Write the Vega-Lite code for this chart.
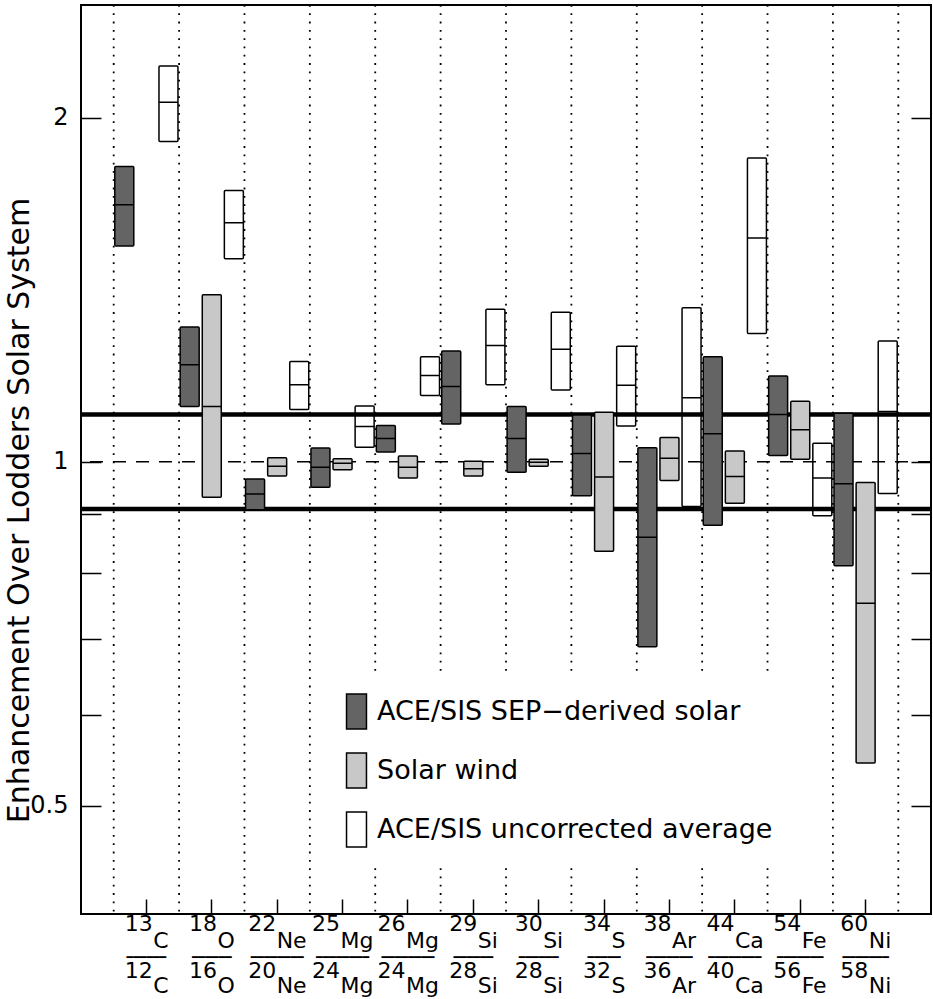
{
  "$schema": "https://vega.github.io/schema/vega-lite/v6.json",
  "width": 850,
  "height": 909,
  "autosize": {"type": "none"},
  "padding": {"left": 81, "top": 5, "right": 2, "bottom": 85},
  "background": "white",
  "config": {
    "font": "DejaVu Sans",
    "view": {"stroke": "black", "strokeWidth": 2},
    "axis": {"labelFont": "DejaVu Sans", "titleFont": "DejaVu Sans", "labelColor": "black", "titleColor": "black", "tickColor": "black", "grid": false, "domain": false},
    "legend": {"labelFont": "DejaVu Sans", "labelColor": "black"}
  },
  "datasets": {
    "ratios": [
      {"ratio": "13C/12C"}, {"ratio": "18O/16O"}, {"ratio": "22Ne/20Ne"}, {"ratio": "25Mg/24Mg"},
      {"ratio": "26Mg/24Mg"}, {"ratio": "29Si/28Si"}, {"ratio": "30Si/28Si"}, {"ratio": "34S/32S"},
      {"ratio": "38Ar/36Ar"}, {"ratio": "44Ca/40Ca"}, {"ratio": "54Fe/56Fe"}, {"ratio": "60Ni/58Ni"}
    ],
    "bands": [
      {"ratio": "13C/12C", "source": "ACE/SIS SEP−derived solar", "lo": 1.545, "mid": 1.679, "hi": 1.813},
      {"ratio": "13C/12C", "source": "ACE/SIS uncorrected average", "lo": 1.907, "mid": 2.064, "hi": 2.221},
      {"ratio": "18O/16O", "source": "ACE/SIS SEP−derived solar", "lo": 1.118, "mid": 1.216, "hi": 1.312},
      {"ratio": "18O/16O", "source": "Solar wind", "lo": 0.931, "mid": 1.118, "hi": 1.400},
      {"ratio": "18O/16O", "source": "ACE/SIS uncorrected average", "lo": 1.506, "mid": 1.619, "hi": 1.728},
      {"ratio": "22Ne/20Ne", "source": "ACE/SIS SEP−derived solar", "lo": 0.908, "mid": 0.937, "hi": 0.966},
      {"ratio": "22Ne/20Ne", "source": "Solar wind", "lo": 0.972, "mid": 0.991, "hi": 1.008},
      {"ratio": "22Ne/20Ne", "source": "ACE/SIS uncorrected average", "lo": 1.111, "mid": 1.168, "hi": 1.224},
      {"ratio": "25Mg/24Mg", "source": "ACE/SIS SEP−derived solar", "lo": 0.950, "mid": 0.989, "hi": 1.028},
      {"ratio": "25Mg/24Mg", "source": "Solar wind", "lo": 0.984, "mid": 0.997, "hi": 1.006},
      {"ratio": "25Mg/24Mg", "source": "ACE/SIS uncorrected average", "lo": 1.030, "mid": 1.074, "hi": 1.119},
      {"ratio": "26Mg/24Mg", "source": "ACE/SIS SEP−derived solar", "lo": 1.020, "mid": 1.048, "hi": 1.076},
      {"ratio": "26Mg/24Mg", "source": "Solar wind", "lo": 0.968, "mid": 0.989, "hi": 1.012},
      {"ratio": "26Mg/24Mg", "source": "ACE/SIS uncorrected average", "lo": 1.143, "mid": 1.190, "hi": 1.236},
      {"ratio": "29Si/28Si", "source": "ACE/SIS SEP−derived solar", "lo": 1.079, "mid": 1.164, "hi": 1.250},
      {"ratio": "29Si/28Si", "source": "Solar wind", "lo": 0.972, "mid": 0.986, "hi": 1.001},
      {"ratio": "29Si/28Si", "source": "ACE/SIS uncorrected average", "lo": 1.168, "mid": 1.264, "hi": 1.360},
      {"ratio": "30Si/28Si", "source": "ACE/SIS SEP−derived solar", "lo": 0.979, "mid": 1.048, "hi": 1.118},
      {"ratio": "30Si/28Si", "source": "Solar wind", "lo": 0.991, "mid": 0.999, "hi": 1.005},
      {"ratio": "30Si/28Si", "source": "ACE/SIS uncorrected average", "lo": 1.156, "mid": 1.255, "hi": 1.352},
      {"ratio": "34S/32S", "source": "ACE/SIS SEP−derived solar", "lo": 0.934, "mid": 1.017, "hi": 1.099},
      {"ratio": "34S/32S", "source": "Solar wind", "lo": 0.835, "mid": 0.970, "hi": 1.105},
      {"ratio": "34S/32S", "source": "ACE/SIS uncorrected average", "lo": 1.075, "mid": 1.167, "hi": 1.262},
      {"ratio": "38Ar/36Ar", "source": "ACE/SIS SEP−derived solar", "lo": 0.689, "mid": 0.859, "hi": 1.029},
      {"ratio": "38Ar/36Ar", "source": "Solar wind", "lo": 0.963, "mid": 1.007, "hi": 1.050},
      {"ratio": "38Ar/36Ar", "source": "ACE/SIS uncorrected average", "lo": 0.914, "mid": 1.138, "hi": 1.364},
      {"ratio": "44Ca/40Ca", "source": "ACE/SIS SEP−derived solar", "lo": 0.880, "mid": 1.058, "hi": 1.236},
      {"ratio": "44Ca/40Ca", "source": "Solar wind", "lo": 0.920, "mid": 0.971, "hi": 1.022},
      {"ratio": "44Ca/40Ca", "source": "ACE/SIS uncorrected average", "lo": 1.295, "mid": 1.570, "hi": 1.845},
      {"ratio": "54Fe/56Fe", "source": "ACE/SIS SEP−derived solar", "lo": 1.013, "mid": 1.100, "hi": 1.189},
      {"ratio": "54Fe/56Fe", "source": "Solar wind", "lo": 1.005, "mid": 1.067, "hi": 1.130},
      {"ratio": "54Fe/56Fe", "source": "ACE/SIS uncorrected average", "lo": 0.897, "mid": 0.968, "hi": 1.038},
      {"ratio": "60Ni/58Ni", "source": "ACE/SIS SEP−derived solar", "lo": 0.811, "mid": 0.957, "hi": 1.103},
      {"ratio": "60Ni/58Ni", "source": "Solar wind", "lo": 0.545, "mid": 0.752, "hi": 0.959},
      {"ratio": "60Ni/58Ni", "source": "ACE/SIS uncorrected average", "lo": 0.938, "mid": 1.107, "hi": 1.276}
    ],
    "limits": [{"v": 1.1}, {"v": 0.9091}],
    "unity": [{"v": 1}]
  },
  "layer": [
    {
      "description": "Uncorrected-average boxes, drawn beneath the reference lines",
      "data": {"name": "bands"},
      "transform": [{"filter": "datum.source == 'ACE/SIS uncorrected average'"}],
      "mark": {"type": "bar", "stroke": "black", "strokeWidth": 1.5, "cornerRadius": 1, "opacity": 1},
      "encoding": {
        "x": {
          "field": "ratio", "type": "nominal",
          "scale": {"domain": ["13C/12C", "18O/16O", "22Ne/20Ne", "25Mg/24Mg", "26Mg/24Mg", "29Si/28Si", "30Si/28Si", "34S/32S", "38Ar/36Ar", "44Ca/40Ca", "54Fe/56Fe", "60Ni/58Ni"], "paddingInner": 0, "paddingOuter": 0.5},
          "axis": {"orient": "bottom", "title": null, "labels": false, "ticks": true, "tickSize": -15, "tickWidth": 1.5}
        },
        "xOffset": {
          "field": "source", "type": "nominal",
          "scale": {"domain": ["ACE/SIS SEP−derived solar", "Solar wind", "ACE/SIS uncorrected average"], "paddingInner": 0.14, "paddingOuter": 0.05}
        },
        "y": {"field": "lo", "type": "quantitative", "scale": {"type": "log", "domain": [0.402, 2.511], "nice": false}, "axis": null},
        "y2": {"field": "hi"},
        "fill": {
          "field": "source", "type": "nominal",
          "scale": {"domain": ["ACE/SIS SEP−derived solar", "Solar wind", "ACE/SIS uncorrected average"], "range": ["#646464", "#c8c8c8", "#ffffff"]},
          "legend": {
            "orient": "none", "legendX": 239, "legendY": 670,
            "title": null, "padding": 18, "fillColor": "white", "strokeColor": null,
            "symbolType": "M-0.57,-1H0.57V1H-0.57Z", "symbolSize": 1225,
            "symbolStrokeColor": "black", "symbolStrokeWidth": 1.5, "symbolOpacity": 1,
            "labelFontSize": 27, "labelLimit": 0, "labelOffset": 2, "rowPadding": 18
          }
        }
      }
    },
    {
      "description": "Thick band at ±10% around solar system composition; carries the left y axis",
      "data": {"name": "limits"},
      "mark": {"type": "rule", "strokeWidth": 4.5, "color": "black"},
      "encoding": {
        "y": {
          "field": "v", "type": "quantitative",
          "scale": {"type": "log", "domain": [0.402, 2.511], "nice": false},
          "axis": {
            "orient": "left",
            "values": [0.5, 0.6, 0.7, 0.8, 0.9, 1, 2],
            "labelExpr": "datum.value == 0.5 ? '0.5' : datum.value == 1 ? '1' : datum.value == 2 ? '2' : ''",
            "tickSize": -20, "tickWidth": 1.5,
            "labelPadding": 33, "labelFontSize": 24, "labelOverlap": false, "labelBaseline": "middle",
            "title": "Enhancement Over Lodders Solar System",
            "titleFontSize": 30, "titleFontWeight": "normal",
            "titleAngle": -90, "titleX": -53, "titleY": 505,
            "titleAlign": "center", "titleBaseline": "alphabetic"
          }
        }
      }
    },
    {
      "description": "Unity reference line; carries the right y axis",
      "data": {"name": "unity"},
      "mark": {"type": "rule", "strokeWidth": 1.5, "strokeDash": [13, 10], "color": "black"},
      "encoding": {
        "y": {
          "field": "v", "type": "quantitative",
          "scale": {"type": "log", "domain": [0.402, 2.511], "nice": false},
          "axis": {"orient": "right", "values": [0.5, 0.6, 0.7, 0.8, 0.9, 1, 2], "labels": false, "tickSize": -20, "tickWidth": 1.5, "title": null}
        }
      }
    },
    {
      "description": "SEP-derived and solar wind boxes, drawn over the reference lines",
      "data": {"name": "bands"},
      "transform": [{"filter": "datum.source != 'ACE/SIS uncorrected average'"}],
      "mark": {"type": "bar", "stroke": "black", "strokeWidth": 1.5, "cornerRadius": 1, "opacity": 1},
      "encoding": {
        "x": {
          "field": "ratio", "type": "nominal",
          "scale": {"domain": ["13C/12C", "18O/16O", "22Ne/20Ne", "25Mg/24Mg", "26Mg/24Mg", "29Si/28Si", "30Si/28Si", "34S/32S", "38Ar/36Ar", "44Ca/40Ca", "54Fe/56Fe", "60Ni/58Ni"], "paddingInner": 0, "paddingOuter": 0.5},
          "axis": null
        },
        "xOffset": {
          "field": "source", "type": "nominal",
          "scale": {"domain": ["ACE/SIS SEP−derived solar", "Solar wind", "ACE/SIS uncorrected average"], "paddingInner": 0.14, "paddingOuter": 0.05}
        },
        "y": {"field": "lo", "type": "quantitative", "scale": {"type": "log", "domain": [0.402, 2.511], "nice": false}, "axis": null},
        "y2": {"field": "hi"},
        "fill": {
          "field": "source", "type": "nominal",
          "scale": {"domain": ["ACE/SIS SEP−derived solar", "Solar wind", "ACE/SIS uncorrected average"], "range": ["#646464", "#c8c8c8", "#ffffff"]},
          "legend": {
            "orient": "none", "legendX": 239, "legendY": 670,
            "title": null, "padding": 18, "fillColor": "white", "strokeColor": null,
            "symbolType": "M-0.57,-1H0.57V1H-0.57Z", "symbolSize": 1225,
            "symbolStrokeColor": "black", "symbolStrokeWidth": 1.5, "symbolOpacity": 1,
            "labelFontSize": 27, "labelLimit": 0, "labelOffset": 2, "rowPadding": 18
          }
        }
      }
    },
    {
      "description": "Central value of each range; carries the mass-number labels",
      "data": {"name": "bands"},
      "mark": {"type": "bar", "fillOpacity": 0, "stroke": "black", "strokeWidth": 1.5},
      "encoding": {
        "x": {
          "field": "ratio", "type": "nominal",
          "scale": {"domain": ["13C/12C", "18O/16O", "22Ne/20Ne", "25Mg/24Mg", "26Mg/24Mg", "29Si/28Si", "30Si/28Si", "34S/32S", "38Ar/36Ar", "44Ca/40Ca", "54Fe/56Fe", "60Ni/58Ni"], "paddingInner": 0, "paddingOuter": 0.5},
          "axis": {
            "orient": "bottom", "title": null, "ticks": false, "labelAngle": 0, "labelOverlap": false, "labelFlush": false,
            "labelExpr": "[substring(datum.value, 0, 2), substring(datum.value, indexof(datum.value, '/') + 1, indexof(datum.value, '/') + 3)]",
            "labelAlign": "right", "labelBaseline": "alphabetic", "labelFontSize": 22,
            "labelPadding": 16, "labelLineHeight": 47,
            "labelOffset": {"expr": "22 * (0.636 - 0.5 * ({'C': 0.698, 'O': 0.787, 'Ne': 1.363, 'Mg': 1.498, 'Si': 0.913, 'S': 0.635, 'Ar': 1.095, 'Ca': 1.311, 'Fe': 1.19, 'Ni': 1.026})[substring(datum.value, 2, indexof(datum.value, '/'))])"}
          }
        },
        "xOffset": {
          "field": "source", "type": "nominal",
          "scale": {"domain": ["ACE/SIS SEP−derived solar", "Solar wind", "ACE/SIS uncorrected average"], "paddingInner": 0.14, "paddingOuter": 0.05}
        },
        "y": {"field": "mid", "type": "quantitative", "scale": {"type": "log", "domain": [0.402, 2.511], "nice": false}, "axis": null},
        "y2": {"field": "mid"}
      }
    },
    {
      "description": "Dotted separators on the left of each ratio; carries the element-symbol labels",
      "data": {"name": "ratios"},
      "mark": {"type": "rule", "strokeWidth": 1.8, "strokeDash": [1.8, 6.5], "color": "black"},
      "encoding": {
        "x": {
          "field": "ratio", "type": "nominal", "bandPosition": 0,
          "scale": {"domain": ["13C/12C", "18O/16O", "22Ne/20Ne", "25Mg/24Mg", "26Mg/24Mg", "29Si/28Si", "30Si/28Si", "34S/32S", "38Ar/36Ar", "44Ca/40Ca", "54Fe/56Fe", "60Ni/58Ni"], "paddingInner": 0, "paddingOuter": 0.5},
          "axis": {
            "orient": "bottom", "title": null, "ticks": false, "labelAngle": 0, "labelOverlap": false, "labelFlush": false,
            "labelExpr": "[substring(datum.value, 2, indexof(datum.value, '/')), substring(datum.value, indexof(datum.value, '/') + 3)]",
            "labelAlign": "left", "labelBaseline": "alphabetic", "labelFontSize": 22,
            "labelPadding": 33, "labelLineHeight": 45,
            "labelOffset": {"expr": "0.5 + 22 * (0.636 - 0.5 * ({'C': 0.698, 'O': 0.787, 'Ne': 1.363, 'Mg': 1.498, 'Si': 0.913, 'S': 0.635, 'Ar': 1.095, 'Ca': 1.311, 'Fe': 1.19, 'Ni': 1.026})[substring(datum.value, 2, indexof(datum.value, '/'))])"}
          }
        }
      }
    },
    {
      "description": "Closing dotted separator after the last ratio; carries the fraction bars",
      "data": {"name": "ratios"},
      "transform": [{"filter": "datum.ratio == '60Ni/58Ni'"}],
      "mark": {"type": "rule", "strokeWidth": 1.8, "strokeDash": [1.8, 6.5], "color": "black"},
      "encoding": {
        "x": {
          "field": "ratio", "type": "nominal", "bandPosition": 1,
          "scale": {"domain": ["13C/12C", "18O/16O", "22Ne/20Ne", "25Mg/24Mg", "26Mg/24Mg", "29Si/28Si", "30Si/28Si", "34S/32S", "38Ar/36Ar", "44Ca/40Ca", "54Fe/56Fe", "60Ni/58Ni"], "paddingInner": 0, "paddingOuter": 0.5},
          "axis": {
            "orient": "bottom", "title": null, "ticks": false, "labelAngle": 0, "labelOverlap": false, "labelFlush": false,
            "labelExpr": "substring('━━━━━━━━━━━━━━━━━━━━', 0, round((20 + 24 * ({'C': 0.698, 'O': 0.787, 'Ne': 1.363, 'Mg': 1.498, 'Si': 0.913, 'S': 0.635, 'Ar': 1.095, 'Ca': 1.311, 'Fe': 1.19, 'Ni': 1.026})[substring(datum.value, 2, indexof(datum.value, '/'))]) / 6.62))",
            "labelAlign": "center", "labelBaseline": "alphabetic", "labelFontSize": 11,
            "labelPadding": 46
          }
        }
      }
    }
  ],
  "resolve": {"axis": {"x": "independent", "y": "independent"}}
}
